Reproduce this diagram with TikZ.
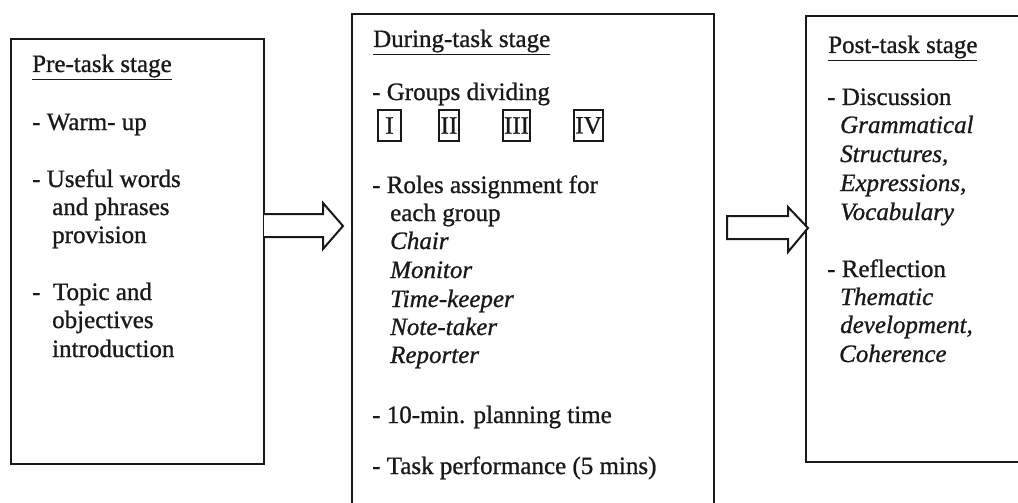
\documentclass[tikz,border=0pt]{standalone}
\usepackage{fontspec}
\setmainfont{Liberation Serif}[UprightFeatures={FakeBold=0.9},ItalicFeatures={FakeBold=0.9}]
\begin{document}
\begin{tikzpicture}[x=1pt,y=-1pt,
  stagebox/.style={draw=black!90,line width=2pt,inner sep=0pt},
  txt/.style={anchor=base west,inner sep=0pt,font=\fontsize{25}{28}\selectfont,text=black!90},
  itx/.style={txt,font=\fontsize{25}{28}\selectfont\itshape},
  numbox/.style={draw=black!90,line width=1.5pt,inner sep=0pt,minimum height=31pt,font=\fontsize{25}{28}\selectfont,text=black!90},
  blockarrow/.style={draw=black!90,line width=2pt,line join=miter,fill=white}]
\useasboundingbox (0,0) rectangle (1018,503);
\fill[white] (0,0) rectangle (1018,503);
% boxes
\node[stagebox,minimum width=253pt,minimum height=425pt] (pre) at (137.5,251.5) {};
\node[stagebox,minimum width=362pt,minimum height=500pt] (during) at (533,264) {};
\node[stagebox,minimum width=220pt,minimum height=446pt] (post) at (916,239) {};
% arrows
\coordinate (a1s) at (264,225.5);
\coordinate (a1e) at (343,226);
\draw[blockarrow] (264,214) -- (323,214) -- (323,203) -- (a1e) -- (323,249) -- (323,237) -- (264,237);
\coordinate (a2s) at (727,227.5);
\coordinate (a2e) at (808,228);
\draw[blockarrow] (727,216) -- (788,216) -- (788,207) -- (a2e) -- (788,252) -- (788,239) -- (727,239) -- cycle;
% pre-task
\node[txt] (p0) at (32,72) {\underline{Pre-task stage}};
\node[txt] (p1) at (32,130) {- Warm- up};
\node[txt] (p2) at (32,187) {- Useful words};
\node[txt] (p3) at (52,215) {and phrases};
\node[txt] (p4) at (52,243) {provision};
\node[txt] (p5) at (32,300) {-\ \ Topic and};
\node[txt] (p6) at (52,328) {objectives};
\node[txt] (p7) at (52,357) {introduction};
% during-task
\node[txt] (d0) at (373,47) {\underline{During-task stage}};
\node[txt] (d1) at (372,100) {- Groups dividing};
\node[numbox,minimum width=23pt] (g1) at (389.5,125.5) {I};
\node[numbox,minimum width=20pt] (g2) at (449,125.5) {II};
\node[numbox,minimum width=27pt] (g3) at (516.5,125.5) {III};
\node[numbox,minimum width=29pt] (g4) at (588.5,125.5) {IV};
\node[txt] (d2) at (372,193) {- Roles assignment for};
\node[txt] (d3) at (390,221) {each group};
\node[itx] (r1) at (390,249) {Chair};
\node[itx] (r2) at (390,278) {Monitor};
\node[itx] (r3) at (390,307) {Time-keeper};
\node[itx] (r4) at (390,335) {Note-taker};
\node[itx] (r5) at (390,363) {Reporter};
\node[txt] (d4) at (372,423) {- 10-min. planning time};
\node[txt] (d5) at (372,474) {- Task performance (5 mins)};
% post-task
\node[txt] (q0) at (828,53) {\underline{Post-task stage}};
\node[txt] (q1) at (827,105) {- Discussion};
\node[itx] (q2) at (840,133) {Grammatical};
\node[itx] (q3) at (840,162) {Structures,};
\node[itx] (q4) at (840,191) {Expressions,};
\node[itx] (q5) at (840,220) {Vocabulary};
\node[txt] (q6) at (827,277) {- Reflection};
\node[itx] (q7) at (840,305) {Thematic};
\node[itx] (q8) at (840,333) {development,};
\node[itx] (q9) at (839,362) {Coherence};
\end{tikzpicture}
\end{document}
